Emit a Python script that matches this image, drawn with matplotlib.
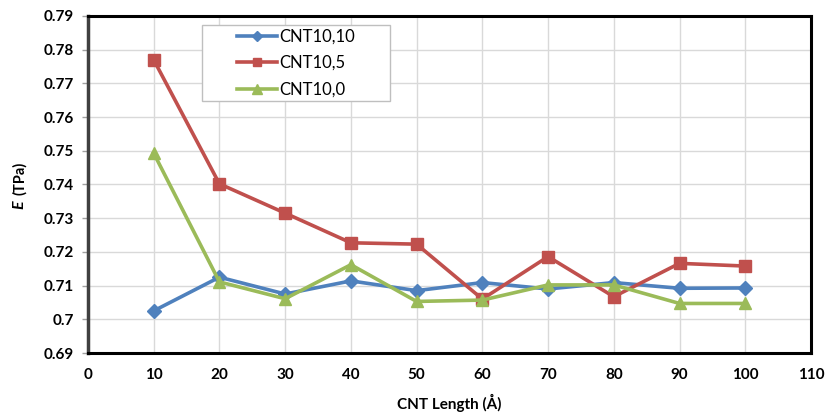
import matplotlib.pyplot as plt
from matplotlib.patches import Rectangle
from matplotlib.ticker import FuncFormatter

# data
length = [10, 20, 30, 40, 50, 60, 70, 80, 90, 100]
cnt_10_10 = [0.7025, 0.7125, 0.7075, 0.7114, 0.7085, 0.7109, 0.7090, 0.7109, 0.7092, 0.7093]
cnt_10_5 = [0.7770, 0.7402, 0.7315, 0.7227, 0.7223, 0.7060, 0.7186, 0.7067, 0.7166, 0.7158]
cnt_10_0 = [0.7493, 0.7111, 0.7061, 0.7162, 0.7053, 0.7057, 0.7102, 0.7102, 0.7047, 0.7047]

plt.rcParams['font.family'] = ['Lato', 'DejaVu Sans']

fig = plt.figure(figsize=(8.26, 4.12), dpi=100)
ax = fig.add_axes([0.1065, 0.1432, 0.8753, 0.818])

ax.plot(length, cnt_10_10, color='#4F81BD', lw=2.6, marker='D', ms=7, label='CNT10,10')
ax.plot(length, cnt_10_5, color='#C0504D', lw=2.6, marker='s', ms=8, label='CNT10,5')
ax.plot(length, cnt_10_0, color='#9BBB59', lw=2.6, marker='^', ms=9, label='CNT10,0')

ax.set_xlim(0, 110)
ax.set_ylim(0.69, 0.79)
ax.set_xticks(range(0, 111, 10))
ax.set_yticks([0.69 + 0.01 * i for i in range(11)])
ax.yaxis.set_major_formatter(FuncFormatter(lambda v, p: ('%.2f' % v).rstrip('0')))
ax.grid(True, color='#d9d9d9', lw=1)
ax.set_axisbelow(True)
ax.tick_params(axis='x', length=0, pad=11, labelsize=11)
ax.tick_params(axis='y', length=4, width=1, color='#a0a0a0', pad=6, labelsize=11)
for lab in ax.get_xticklabels() + ax.get_yticklabels():
    lab.set_fontweight('bold')

for s in ['top', 'right', 'bottom']:
    ax.spines[s].set_linewidth(2.2)
    ax.spines[s].set_color('black')
ax.spines['left'].set_linewidth(2.5)
ax.spines['left'].set_color('#404040')

ax.set_xlabel('CNT Length (Å)', fontsize=11, fontweight='bold', labelpad=8)
fig.text(0.024, 0.503, 'E', rotation=90, fontsize=11.5, fontweight='bold', style='italic',
         ha='center', va='center')
fig.text(0.024, 0.568, '(TPa)', rotation=90, fontsize=10.5, fontweight='bold',
         ha='center', va='center')

# legend frame drawn separately so the entries sit centred in a wide box
ax.add_patch(Rectangle((0.2446, 0.7549), 0.2276, 0.1844, transform=fig.transFigure,
                       facecolor='white', edgecolor='#bfbfbf', lw=1, zorder=5,
                       clip_on=False))
leg = ax.legend(loc='center', bbox_to_anchor=(0.3584, 0.847), bbox_transform=fig.transFigure,
                fontsize=12, frameon=False, handlelength=2.4, handletextpad=0.15,
                labelspacing=0.62, markerscale=0.8)
leg.set_zorder(6)

fig.savefig('out.png', dpi=100)
